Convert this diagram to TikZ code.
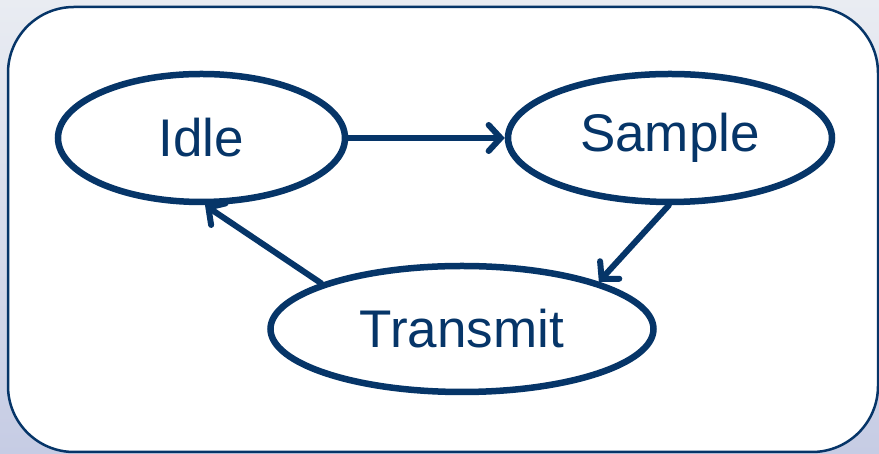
\documentclass[tikz,border=0pt]{standalone}
\usepackage{fontspec}
\setmainfont{Liberation Sans}
\usetikzlibrary{arrows.meta,shapes.geometric}
\definecolor{navy}{HTML}{063568}
\definecolor{bgtop}{HTML}{E9ECF2}
\definecolor{bgbot}{HTML}{C6CCE4}
\tikzset{
  x=1pt, y=1pt,
  state/.style={draw=navy, line width=6.5pt, ellipse, inner sep=0pt, text=navy,
    font=\fontsize{53}{60}\selectfont},
  flow/.style={draw=navy, line width=6pt, line cap=round,
    -{Straight Barb[length=12pt, width=26pt, line width=6pt, line cap=round]}}
}
\begin{document}
\begin{tikzpicture}
  % page and backdrop
  \useasboundingbox (0,0) rectangle (879,454);
  \shade[top color=bgtop, bottom color=bgbot] (0,0) rectangle (879,454);
  % framed panel
  \draw[navy, line width=2.5pt, fill=white, rounded corners=66pt] (8,2) rectangle (878,447);
  % states
  \node[state, minimum width=287pt, minimum height=128pt] (idle) at (201.5,316) {Idle};
  \node[state, minimum width=324pt, minimum height=128pt] (sample) at (670,316) {Sample};
  \node[state, minimum width=383pt, minimum height=126pt] (transmit) at (462,125) {Transmit};
  % transitions
  \draw[flow] (idle.east) -- (sample.west);
  \draw[flow] (sample.-91) -- (transmit.19);
  \draw[flow] (transmit.162.6) -- (idle.-87);
\end{tikzpicture}
\end{document}
